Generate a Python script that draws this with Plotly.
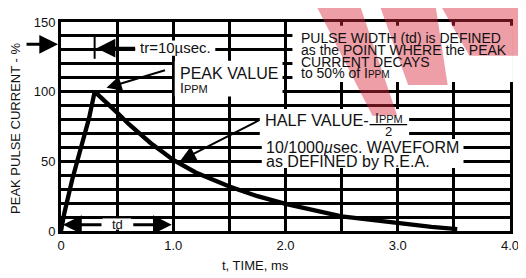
import plotly.graph_objects as go

# ---- data ----
time_ms = [0.0, 0.03, 0.10, 0.19, 0.25, 0.30, 0.40, 0.50, 0.60, 0.70, 0.80, 0.90,
           1.00, 1.20, 1.50, 1.75, 2.00, 2.50, 3.00, 3.30, 3.53]
current_pct = [0, 13, 37, 62, 81, 100, 93, 85, 77, 70, 63, 57,
               51, 42, 32, 25, 19.5, 10.5, 5.5, 3, 1.4]

x_grid_vals = [0, 0.5, 1, 1.5, 2, 2.5, 3, 3.5, 4]
x_tick_text = ["0", "", "1.0", "", "2.0", "", "3.0", "", "4.0"]
y_grid_vals = [0, 10, 20, 30, 40, 50, 60, 70, 80, 90, 100, 110, 120, 130, 140, 150]
y_tick_text = ["0", "", "", "", "", "50", "", "", "", "", "100", "", "", "", "", "150"]

# the page body has an 8px margin: the figure starts at (8, 8)
OFF = 8
W, H = 518, 270
L, R, T, B = 53, 11, 7, 47
PW, PH = W - L - R, H - T - B


def px(x):
    return (x - OFF - L) / PW


def py(y):
    return (H - B - (y - OFF)) / PH


FONT = "Liberation Sans, Arial, sans-serif"

fig = go.Figure()
fig.add_trace(go.Scatter(x=time_ms, y=current_pct, mode="lines",
                         line=dict(color="black", width=4.3),
                         hoverinfo="skip", showlegend=False))

shapes = []
# white boxes behind labels (cut the grid like the reference)
for x0, x1, y0, y1 in [(136, 217, 34, 50), (176, 285, 55, 92), (295, 518, 19, 77),
                       (262, 413, 105, 136), (264, 468, 136, 166), (103, 132, 218, 229.5)]:
    shapes.append(dict(type="rect", xref="paper", yref="paper", layer="above",
                       x0=px(x0), x1=px(x1), y0=py(y1), y1=py(y0),
                       line=dict(width=0), fillcolor="white"))
# tr tick mark
shapes.append(dict(type="line", xref="paper", yref="paper", layer="above",
                   x0=px(95), x1=px(95), y0=py(53), y1=py(30),
                   line=dict(color="black", width=2)))
# fraction bar under IPPM
shapes.append(dict(type="line", xref="paper", yref="paper", layer="above",
                   x0=px(373), x1=px(411), y0=py(121), y1=py(121),
                   line=dict(color="black", width=1.3)))


def poly(pts):
    d = "M " + " L ".join(f"{px(a):.4f},{py(b):.4f}" for a, b in pts) + " Z"
    return dict(type="path", xref="paper", yref="paper", layer="above", path=d,
                line=dict(width=0), fillcolor="rgba(214,40,58,0.45)")


# red watermark in the corner
shapes.append(poly([(320, 0), (364, 0), (401, 112), (376, 112)]))
shapes.append(poly([(384, 0), (440, 0), (452, 80), (412, 80)]))
shapes.append(poly([(446, 0), (526, 0), (526, 50), (474, 50)]))

ann = []


def text(x, y, s, size, anchor="left", color="#111"):
    ann.append(dict(xref="paper", yref="paper", x=px(x), y=py(y), text=s,
                    showarrow=False, xanchor=anchor, yanchor="middle",
                    font=dict(family=FONT, size=size, color=color)))


def arrow(x_tip, y_tip, x_tail, y_tail, width=2.5, size=1.2, head=2):
    ann.append(dict(xref="paper", yref="paper", x=px(x_tip), y=py(y_tip),
                    ax=x_tail - x_tip, ay=y_tail - y_tip, axref="pixel", ayref="pixel",
                    text="", showarrow=True, arrowhead=head, arrowsize=size,
                    arrowwidth=width, arrowcolor="black", standoff=0))


IPPM = "I<span style='font-size:11px'>PPM</span>"
IPPM_S = "I<span style='font-size:10px'>PPM</span>"

text(139, 41, "tr=10µsec.", 15)
text(179, 68, "PEAK VALUE", 16)
text(179, 83, IPPM, 14)
text(302, 32, "PULSE WIDTH (td) is DEFINED", 14)
text(302, 44, "as the POINT WHERE the PEAK", 14)
text(302, 56, "CURRENT DECAYS", 14)
text(302, 68, "to 50% of " + IPPM_S, 14)
text(265, 116, "HALF VALUE-", 16.3)
text(393, 114, IPPM, 14, anchor="center")
text(392, 128, "2", 13, anchor="center")
text(266, 145, "10/1000<i>µ</i>sec. WAVEFORM", 16)
text(266, 159, "as DEFINED by R.E.A.", 16)
text(118, 224, "td", 13, anchor="center")
text(258, 267, "t, TIME, ms", 13, anchor="center")
ann.append(dict(xref="paper", yref="paper", x=px(15), y=py(125),
                text="PEAK PULSE CURRENT - %", textangle=-90, showarrow=False,
                xanchor="center", yanchor="middle",
                font=dict(family=FONT, size=13, color="#111")))

arrow(58, 38, 25, 38, width=3, size=1.25)
arrow(97, 42, 137, 42, width=3, size=1.25)
arrow(107, 83, 167, 65, width=2, size=1.5)
arrow(182, 158, 262, 117, width=2, size=1.5)
arrow(63, 224.5, 103, 224.5, width=3, size=1.25)
arrow(173, 224.5, 133, 224.5, width=3, size=1.25)

fig.update_layout(
    width=W, height=H, margin=dict(l=L, r=R, t=T, b=B),
    paper_bgcolor="white", plot_bgcolor="white",
    font=dict(family=FONT, size=13, color="#111"),
    shapes=shapes, annotations=ann,
    xaxis=dict(range=[0, 4], tickmode="array", tickvals=x_grid_vals, ticktext=x_tick_text,
               showgrid=True, gridcolor="black", gridwidth=2.5,
               showline=True, mirror=True, linecolor="black", linewidth=3,
               zeroline=False, ticks="", tickfont=dict(size=13), fixedrange=True),
    yaxis=dict(range=[0, 150], tickmode="array", tickvals=y_grid_vals, ticktext=y_tick_text,
               showgrid=True, gridcolor="black", gridwidth=2.5,
               showline=True, mirror=True, linecolor="black", linewidth=3,
               zeroline=False, ticks="", tickfont=dict(size=13), fixedrange=True),
)

fig.write_html("out.html")
